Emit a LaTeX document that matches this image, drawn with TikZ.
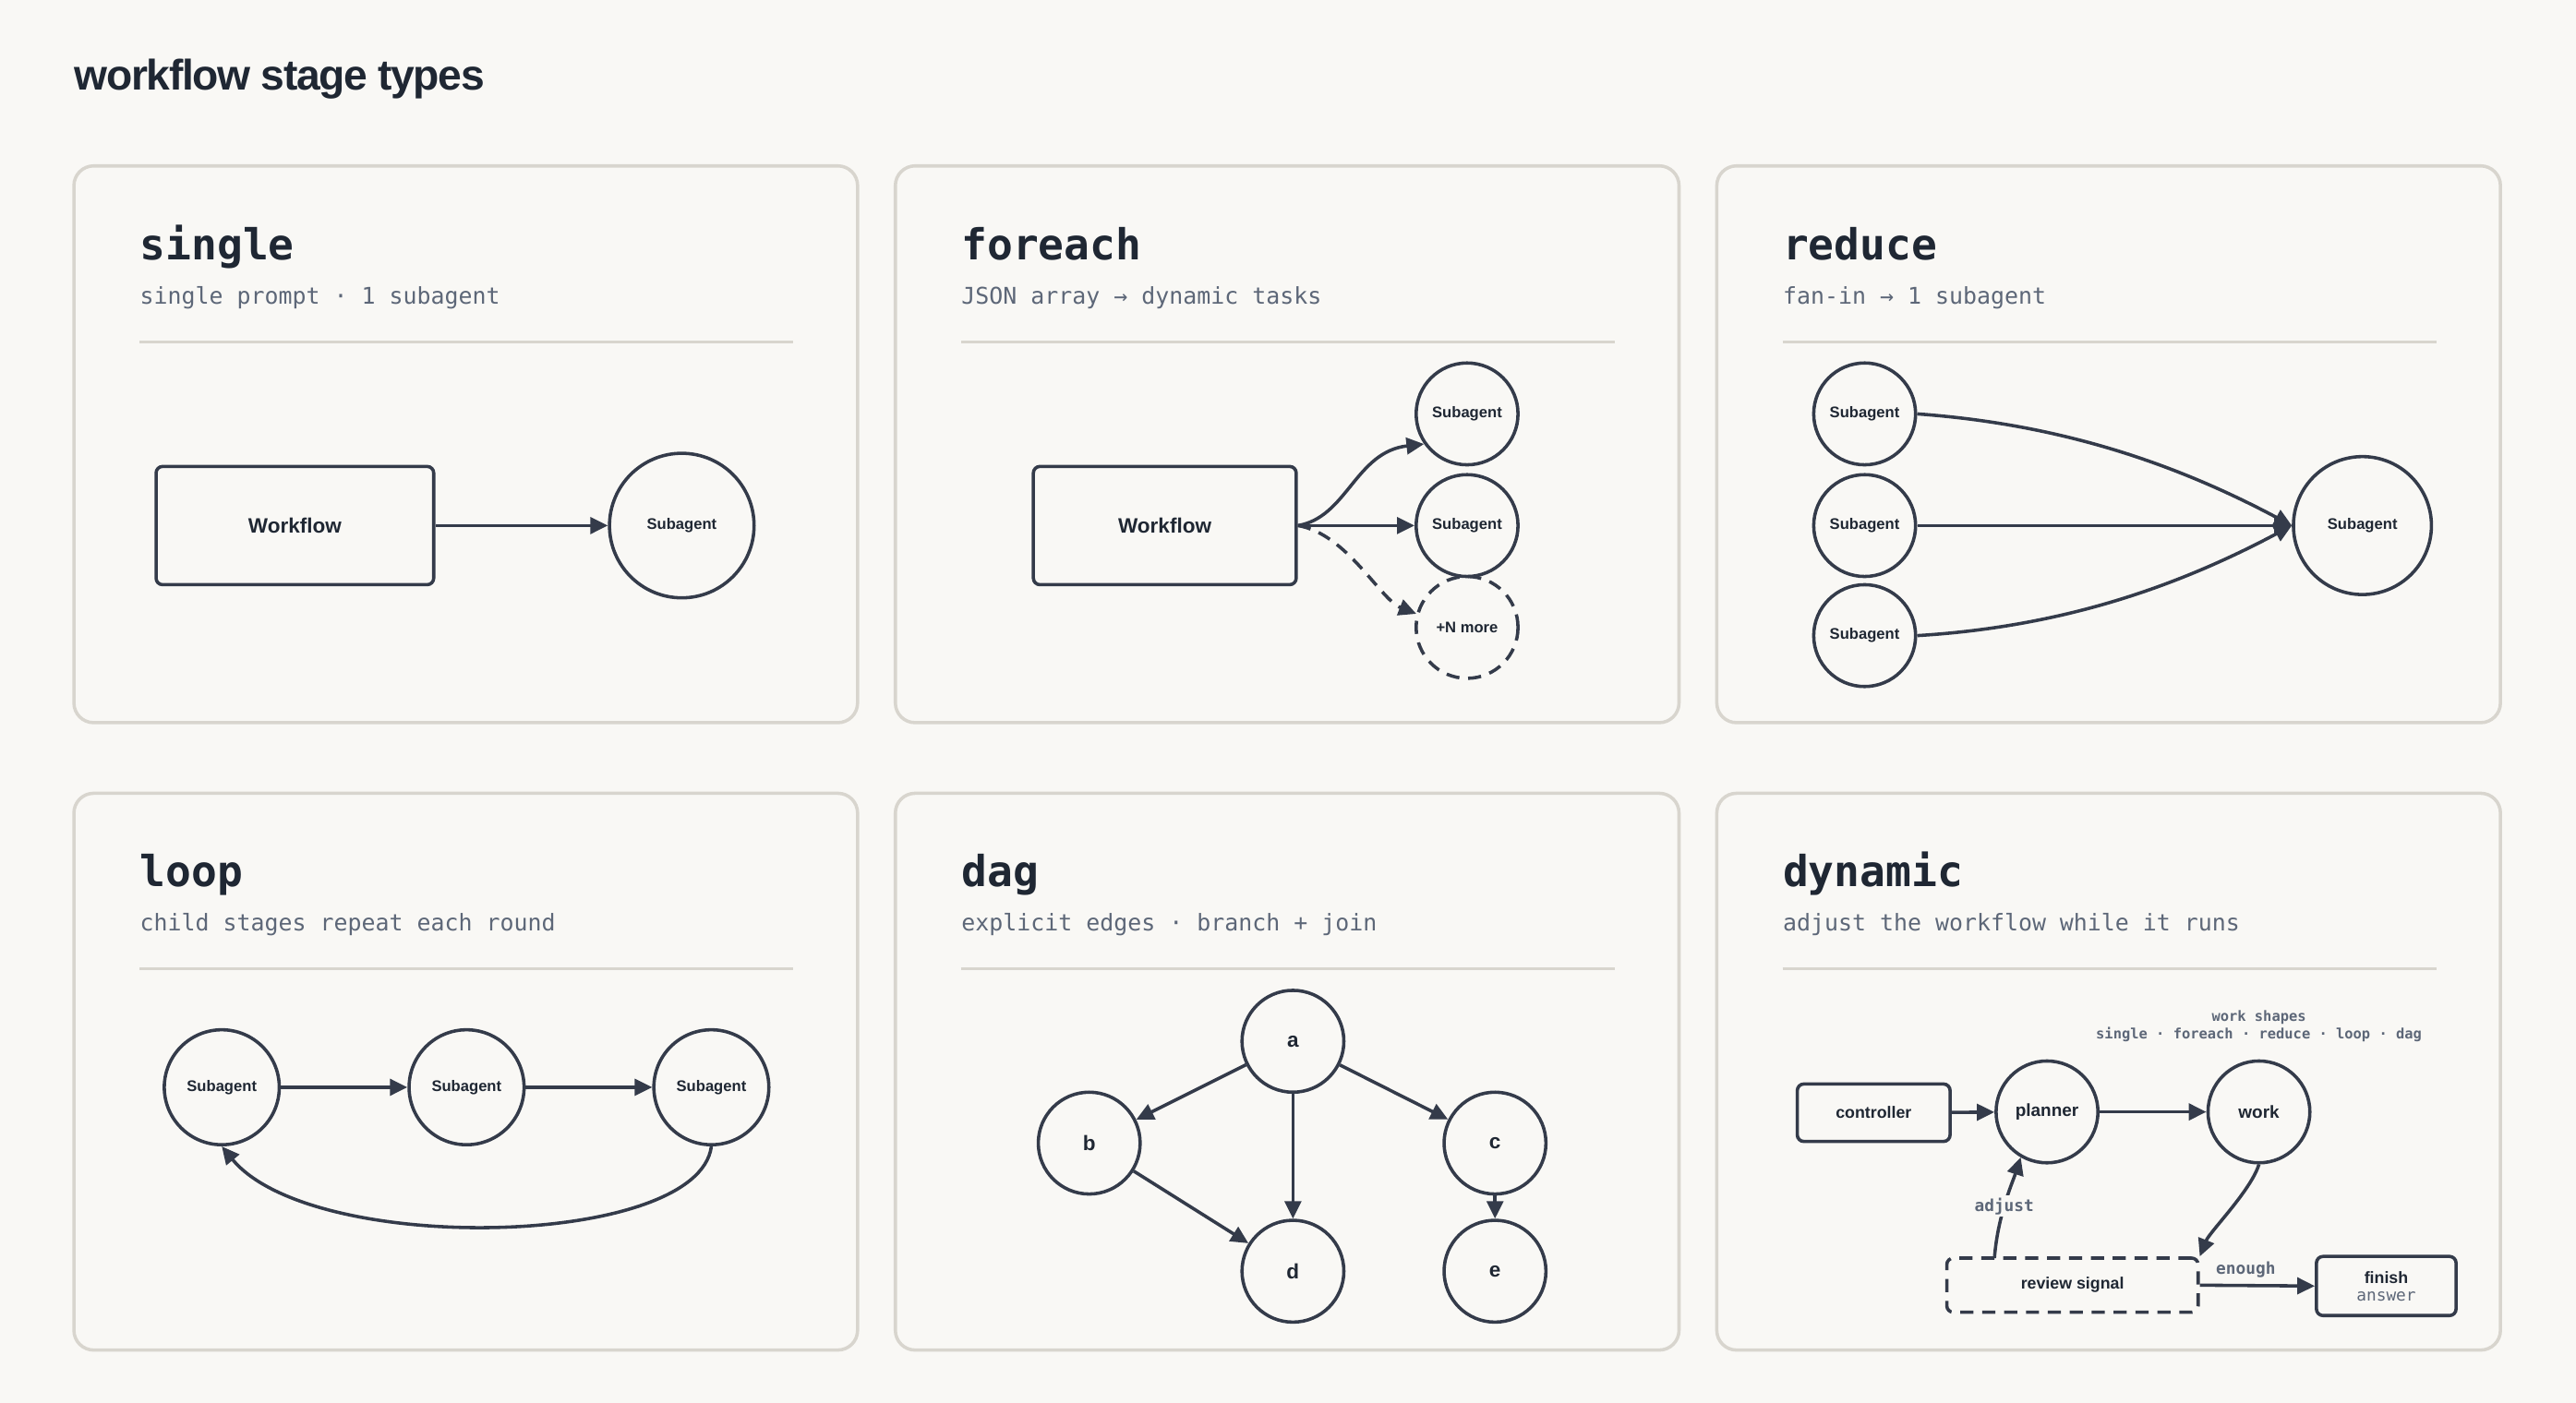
\documentclass[tikz,border=0pt]{standalone}
\usepackage{fontspec}
\setmainfont{Liberation Sans}
\setmonofont{DejaVu Sans Mono}
\usetikzlibrary{arrows.meta}
\definecolor{bg}{HTML}{F9F8F5}
\definecolor{ink}{HTML}{343B4A}
\definecolor{head}{HTML}{1F2733}
\definecolor{sub}{HTML}{5D6778}
\definecolor{frame}{HTML}{D8D5CE}
\begin{document}
\begin{tikzpicture}[x=0.75pt,y=-0.75pt,
  panel/.style={draw=frame,line width=1.5pt,rounded corners=9pt,fill=bg},
  ph/.style={anchor=base west,font=\ttfamily\bfseries\fontsize{19.5}{22}\selectfont,text=head,inner sep=0},
  ps/.style={anchor=base west,font=\ttfamily\fontsize{10.5}{12}\selectfont,text=sub,inner sep=0},
  rule/.style={draw=frame,line width=1.2pt},
  c/.style={circle,draw=ink,line width=1.5pt,minimum size=#1*0.75pt,inner sep=0,font=\bfseries\fontsize{7}{8}\selectfont,text=head},
  bx/.style={draw=ink,line width=1.5pt,rounded corners=3pt,inner sep=0,font=\bfseries\fontsize{9.5}{11}\selectfont,text=head},
  ar/.style={draw=ink,line width=1.5pt,-{Triangle[length=8pt,width=7.5pt]}},
  lab/.style={font=\ttfamily\bfseries\fontsize{7.5}{9}\selectfont,text=sub,fill=bg,inner sep=1pt}]
\fill[bg] (0,0) rectangle (1568,854);
\useasboundingbox (0,0) rectangle (1568,854);
\node[anchor=base west,inner sep=0,font=\bfseries\fontsize{19.5}{24}\selectfont,text=head] (title) at (45,55) {\addfontfeatures{LetterSpace=-3}workflow stage types};
% panels
\foreach \x/\y/\h/\s [count=\i] in {45/101/single/single prompt · 1 subagent,545/101/foreach/JSON array → dynamic tasks,1045/101/reduce/fan-in → 1 subagent,45/483/loop/child stages repeat each round,545/483/dag/explicit edges · branch + join,1045/483/dynamic/adjust the workflow while it runs}{
  \draw[panel] (\x,\y) rectangle ++(477,339);
  \node[ph] (h\i) at (\x+40,\y+57) {\h};
  \node[ps] (s\i) at (\x+40,\y+84) {\s};
  \draw[rule] (\x+40,\y+107) -- ++(398,0);
}
% single
\node[bx,minimum width=169*0.75pt,minimum height=72*0.75pt] (w1) at (179.5,320) {Workflow};
\node[c=88] (s1a) at (415,320) {Subagent};
\draw[ar] (w1) -- (s1a);
% foreach
\node[bx,minimum width=160*0.75pt,minimum height=72*0.75pt] (w2) at (709,320) {Workflow};
\node[c=62] (f1) at (893,252) {Subagent};
\node[c=62] (f2) at (893,320) {Subagent};
\node[c=62,dashed,dash pattern=on 6pt off 4pt] (f3) at (893,382) {+N more};
\draw[ar] (w2.east) .. controls (820,315) and (825,275) .. (f1.215);
\draw[ar] (w2.east) -- (f2);
\draw[ar,dashed,dash pattern=on 6pt off 4pt] (w2.east) .. controls (820,325) and (840,365) .. (f3.165);
% reduce
\node[c=62] (r1) at (1135,252) {Subagent};
\node[c=62] (r2) at (1135,320) {Subagent};
\node[c=62] (r3) at (1135,387) {Subagent};
\node[c=84] (rs) at (1438,320) {Subagent};
\draw[ar] (r1.east) .. controls (1250,258) and (1320,280) .. (rs.west);
\draw[ar] (r2) -- (rs);
\draw[ar] (r3.east) .. controls (1250,382) and (1320,360) .. (rs.west);
% loop
\node[c=70] (l1) at (135,662) {Subagent};
\node[c=70] (l2) at (284,662) {Subagent};
\node[c=70] (l3) at (433,662) {Subagent};
\draw[ar] (l1) -- (l2);
\draw[ar] (l2) -- (l3);
\draw[ar] (l3.south) .. controls (425,760) and (190,765) .. (l1.south);
% dag
\tikzset{dn/.style={c=62,font=\bfseries\fontsize{9.5}{11}\selectfont}}
\node[dn] (a) at (787,634) {a};
\node[dn] (b) at (663,696) {b};
\node[dn] (cc) at (910,696) {c};
\node[dn] (d) at (787,774) {d};
\node[dn] (e) at (910,774) {e};
\draw[ar] (a) -- (b);
\draw[ar] (a) -- (cc);
\draw[ar] (a) -- (d);
\draw[ar] (b) -- (d);
\draw[ar] (cc) -- (e);
% dynamic
\node[bx,minimum width=93*0.75pt,minimum height=35*0.75pt,font=\bfseries\fontsize{7.5}{9}\selectfont] (ctl) at (1140.5,677.5) {controller};
\node[c=62,font=\bfseries\fontsize{8}{9}\selectfont] (pl) at (1246,677) {planner};
\node[c=62,font=\bfseries\fontsize{8}{9}\selectfont] (wk) at (1375,677) {work};
\node[bx,dashed,dash pattern=on 6pt off 4pt,minimum width=153*0.75pt,minimum height=33*0.75pt,font=\bfseries\fontsize{7.5}{9}\selectfont] (rv) at (1261.5,782.5) {review signal};
\node[bx,minimum width=85*0.75pt,minimum height=36*0.75pt,align=center,font=\bfseries\fontsize{7.5}{9}\selectfont] (fin) at (1452.5,783) {finish\\[-1pt]{\ttfamily\mdseries\color{sub}answer}};
\node[font=\ttfamily\bfseries\fontsize{6.5}{8}\selectfont,text=sub,align=center,inner sep=0] (ws) at (1375,625) {work shapes\\single · foreach · reduce · loop · dag};
\draw[ar] (ctl) -- (pl);
\draw[ar] (pl) -- (wk);
\draw[ar] (wk.south) .. controls (1370,725) and (1345,750) .. (rv.north east);
\draw[ar] (rv.east) -- node[lab,above=2pt,pos=0.4] (en) {enough} (fin.west);
\draw[ar] (1214,766) .. controls (1216,740) and (1225,720) .. node[lab,pos=0.45] (adj) {adjust} (pl.240);
\end{tikzpicture}
\end{document}
